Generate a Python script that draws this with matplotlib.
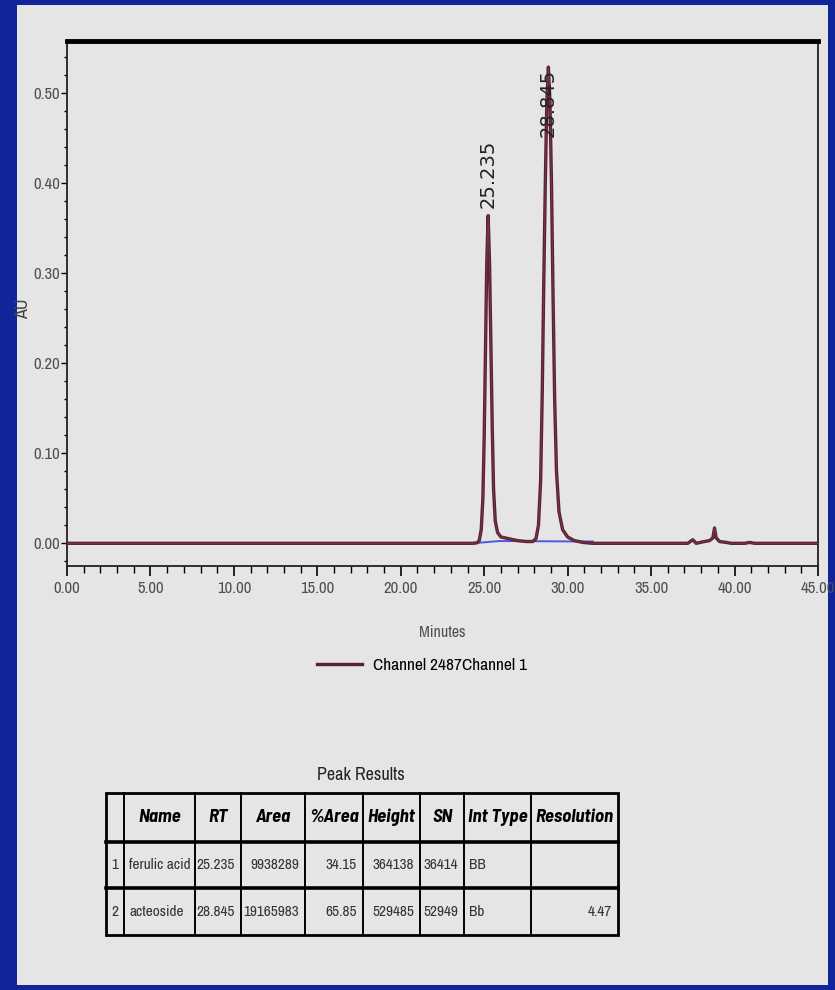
import matplotlib
matplotlib.use("Agg")
import matplotlib.pyplot as plt
from matplotlib import font_manager
from matplotlib.patches import Rectangle
from matplotlib.ticker import MultipleLocator, FormatStrFormatter

installed = {f.name for f in font_manager.fontManager.ttflist}


def pick(options):
    for name in options:
        if name in installed:
            return name
    return 'Liberation Sans'


narrow = pick(['Liberation Sans Narrow', 'Arial Narrow', 'Archivo Narrow', 'Roboto Condensed'])
narrow_bold = pick(['Liberation Sans Narrow', 'Arial Narrow', 'Barlow Semi Condensed',
                    'Asap Condensed', 'Roboto Condensed'])
plt.rcParams['font.family'] = [narrow, 'DejaVu Sans']

# chromatogram trace (minutes, AU)
time_min = [0.0, 5.0, 10.0, 15.0, 20.0, 24.3, 24.57, 24.7, 24.82, 24.92, 25.0, 25.08,
            25.15, 25.235, 25.32, 25.4, 25.48, 25.56, 25.66, 25.8, 26.0, 26.5,
            27.0, 27.5, 27.9, 28.1, 28.25, 28.38, 28.48, 28.56, 28.66, 28.75,
            28.845, 28.94, 29.03, 29.12, 29.22, 29.33, 29.48, 29.7, 30.0, 30.4,
            30.9, 31.5, 35.0, 37.2, 37.5, 37.7, 38.2, 38.5, 38.7, 38.8, 38.9,
            39.1, 39.5, 39.8, 40.6, 40.9, 41.2, 45.0]
absorb_au = [0.0, 0.0, 0.0, 0.0, 0.0, 0.0, 0.0005, 0.003, 0.015, 0.05, 0.12, 0.22,
             0.31, 0.364, 0.31, 0.22, 0.13, 0.06, 0.025, 0.012, 0.007, 0.005,
             0.003, 0.002, 0.002, 0.005, 0.02, 0.07, 0.17, 0.28, 0.40, 0.49,
             0.529, 0.49, 0.40, 0.28, 0.16, 0.08, 0.035, 0.015, 0.007, 0.003,
             0.001, 0.0, 0.0, 0.0, 0.004, 0.0, 0.002, 0.003, 0.006, 0.017, 0.006,
             0.002, 0.001, 0.0, 0.0, 0.001, 0.0, 0.0]

# blue integration baseline
base_min = [24.57, 25.9, 31.5]
base_au = [0.0005, 0.0025, 0.002]

peak_rt = [25.235, 28.845]
peak_height = [0.364, 0.529]

# peak results table
table_title = 'Peak Results'
col_names = ['', 'Name', 'RT', 'Area', '%Area', 'Height', 'SN', 'Int Type', 'Resolution']
peak_no = ['1', '2']
peak_name = ['ferulic acid', 'acteoside']
rt_text = ['25.235', '28.845']
area = ['9938289', '19165983']
pct_area = ['34.15', '65.85']
height = ['364138', '529485']
sn = ['36414', '52949']
int_type = ['BB', 'Bb']
resolution = ['', '4.47']

blue = '#0f2599'
panel = '#e5e5e5'
trace_c = '#5a1f36'
grey_txt = '#505050'

W, H = 835, 990
fig = plt.figure(figsize=(W / 100, H / 100), dpi=100, facecolor=blue)
fig.patches.append(Rectangle((17 / W, 5 / H), (828 - 17) / W, (985 - 5) / H,
                             transform=fig.transFigure, facecolor=panel,
                             edgecolor='none', zorder=-10))

# chromatogram axes
ax = fig.add_axes([67 / W, 1 - 566 / H, (818 - 67) / W, (566 - 41) / H])
ax.set_facecolor(panel)
ax.plot(base_min, base_au, color='#4a5ae0', lw=1.4, zorder=2)
ax.plot(time_min, absorb_au, color=trace_c, lw=2.4, zorder=3,
        label='Channel 2487Channel 1')
ax.plot(time_min, absorb_au, color='#7a3e44', lw=0.6, zorder=3.5)
ax.set_xlim(0, 45)
ax.set_ylim(-0.0252, 0.558)

ax.xaxis.set_major_locator(MultipleLocator(5))
ax.xaxis.set_minor_locator(MultipleLocator(1))
ax.yaxis.set_major_locator(MultipleLocator(0.1))
ax.yaxis.set_minor_locator(MultipleLocator(0.02))
ax.xaxis.set_major_formatter(FormatStrFormatter('%.2f'))
ax.yaxis.set_major_formatter(FormatStrFormatter('%.2f'))
ax.tick_params(axis='x', which='major', length=7, width=1.2, pad=4,
               labelsize=12, labelcolor=grey_txt)
ax.tick_params(axis='x', which='minor', length=5, width=1.0)
ax.tick_params(axis='y', which='major', length=4, width=1.0, pad=1,
               labelsize=12, labelcolor=grey_txt)
ax.tick_params(axis='y', which='minor', length=2.5, width=1.0)

ax.spines['top'].set_linewidth(3.5)
ax.spines['top'].set_color('black')
for s in ['left', 'right', 'bottom']:
    ax.spines[s].set_linewidth(1.3)
    ax.spines[s].set_color('#222222')

ax.set_xlabel('Minutes', fontsize=11.5, color=grey_txt)
ax.xaxis.set_label_coords(0.5, -0.112)
ax.set_ylabel('AU', fontsize=13, color='#444444')
ax.yaxis.set_label_coords(-0.048, 0.49)

# retention time labels on the peaks
for rt, h in zip(peak_rt, peak_height):
    if h + 0.09 < 0.558:
        ax.text(rt, h + 0.008, f'{rt:.3f}', rotation=90, ha='center', va='bottom',
                fontsize=14, family='DejaVu Sans', color='#222222', zorder=4)
    else:
        ax.text(rt, h - 0.002, f'{rt:.3f}', rotation=90, ha='center', va='top',
                fontsize=14, family='DejaVu Sans', color='#222222', zorder=4)

fig.legend(loc='center', bbox_to_anchor=(422 / W, 1 - 665 / H), frameon=False,
           fontsize=12.5, handlelength=2.6, handletextpad=0.6)

# table drawn on an overlay in pixel units
tx = fig.add_axes([0, 0, 1, 1])
tx.set_xlim(0, W)
tx.set_ylim(H, 0)
tx.axis('off')
tx.patch.set_alpha(0)

col_x = [106, 124, 195, 241, 305, 363, 420, 464, 531, 618]
row_y = [793, 842, 888, 935]

tx.text((col_x[0] + col_x[-1]) / 2 - 1, 775, table_title, ha='center', va='center',
        fontsize=13, color='#222222')
for x in col_x[1:-1]:
    tx.plot([x, x], [row_y[0], row_y[-1]], color='black', lw=1.4)
for y in row_y[1:-1]:
    tx.plot([col_x[0], col_x[-1]], [y, y], color='black', lw=2.6)
tx.add_patch(Rectangle((col_x[0], row_y[0]), col_x[-1] - col_x[0], row_y[-1] - row_y[0],
                       facecolor='none', edgecolor='black', lw=2.0))

for i, name in enumerate(col_names):
    tx.text((col_x[i] + col_x[i + 1]) / 2, (row_y[0] + row_y[1]) / 2, name,
            ha='center', va='center', fontsize=13.5, weight='bold', style='italic',
            family=narrow_bold, color='black')

rows = list(zip(peak_no, peak_name, rt_text, area, pct_area, height, sn, int_type, resolution))
align = ['center', 'left', 'right', 'right', 'right', 'right', 'right', 'left', 'right']
for r, row in enumerate(rows):
    yc = (row_y[r + 1] + row_y[r + 2]) / 2
    for i, val in enumerate(row):
        if align[i] == 'center':
            xpos = (col_x[i] + col_x[i + 1]) / 2
        elif align[i] == 'left':
            xpos = col_x[i] + 5
        else:
            xpos = col_x[i + 1] - 6
        tx.text(xpos, yc, val, ha=align[i], va='center', fontsize=11, color='#333333')

fig.savefig('out.png', dpi=100, facecolor=blue)
